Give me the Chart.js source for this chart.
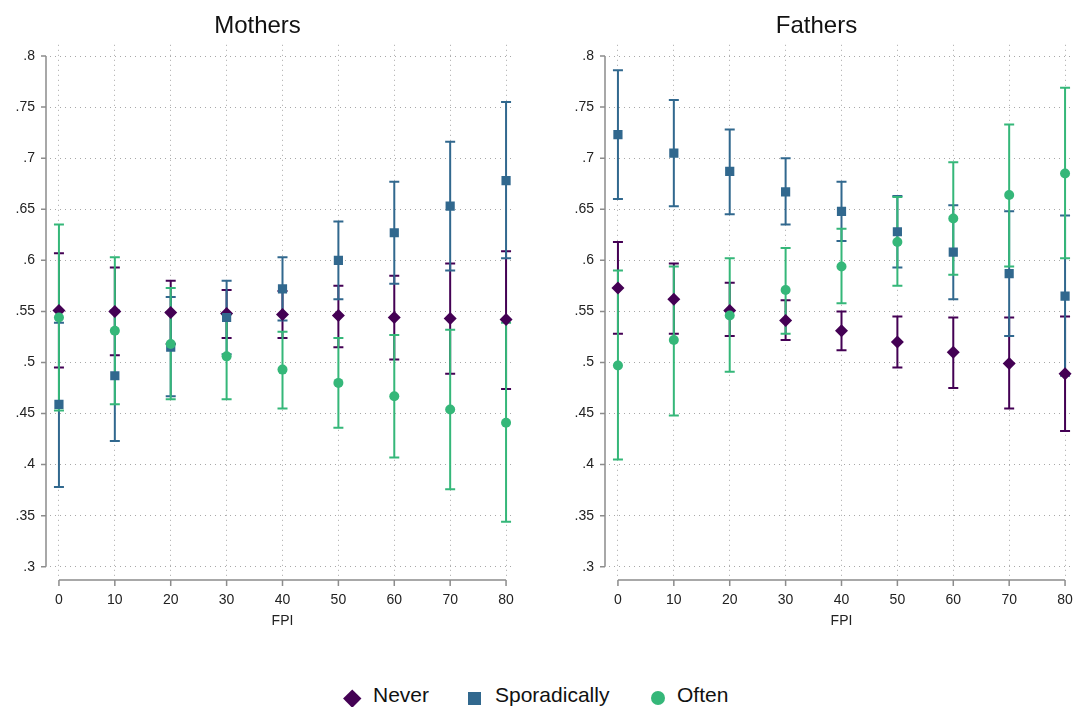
<!DOCTYPE html>
<html>
<head>
<meta charset="utf-8">
<script src="https://cdn.jsdelivr.net/npm/chart.js@4/dist/chart.umd.min.js"></script>
<style>
  body { margin: 0; background: #fff; width: 1074px; height: 707px; position: relative; overflow: hidden;
         font-family: "Liberation Sans", Arial, sans-serif; }
  #left { position: absolute; left: 0; top: 0; }
  #right { position: absolute; left: 559px; top: 0; }
  .lg { position: absolute; top: 683px; font-size: 21px; color: #111; line-height: 24px; white-space: nowrap; }
  .mk { position: absolute; }
</style>
</head>
<body>
<canvas id="left" width="559" height="650"></canvas>
<canvas id="right" width="535" height="650"></canvas>

<div class="mk" style="left:346px;top:692px;width:12.5px;height:12.5px;background:#440154;transform:rotate(45deg);"></div>
<div class="lg" style="left:373px;">Never</div>
<div class="mk" style="left:468px;top:692px;width:13px;height:13px;background:#31688e;"></div>
<div class="lg" style="left:495px;">Sporadically</div>
<div class="mk" style="left:651px;top:691px;width:14px;height:14px;border-radius:50%;background:#35b779;"></div>
<div class="lg" style="left:677px;">Often</div>

<script>
// x positions (FPI) and axis ticks
const fpi = [0, 10, 20, 30, 40, 50, 60, 70, 80];
const yTicks = [0.3, 0.35, 0.4, 0.45, 0.5, 0.55, 0.6, 0.65, 0.7, 0.75, 0.8];

// Mothers
const mNever   = [0.551, 0.550, 0.549, 0.548, 0.547, 0.546, 0.544, 0.543, 0.542];
const mNeverLo = [0.495, 0.507, 0.518, 0.524, 0.524, 0.515, 0.503, 0.489, 0.474];
const mNeverHi = [0.607, 0.593, 0.580, 0.571, 0.570, 0.575, 0.585, 0.597, 0.609];
const mSpor    = [0.459, 0.487, 0.515, 0.544, 0.572, 0.600, 0.627, 0.653, 0.678];
const mSporLo  = [0.378, 0.423, 0.467, 0.508, 0.541, 0.562, 0.577, 0.590, 0.602];
const mSporHi  = [0.539, 0.551, 0.564, 0.580, 0.603, 0.638, 0.677, 0.716, 0.755];
const mOften   = [0.544, 0.531, 0.518, 0.506, 0.493, 0.480, 0.467, 0.454, 0.441];
const mOftenLo = [0.453, 0.459, 0.464, 0.464, 0.455, 0.436, 0.407, 0.376, 0.344];
const mOftenHi = [0.635, 0.603, 0.573, 0.547, 0.530, 0.524, 0.527, 0.532, 0.539];

// Fathers
const fNever   = [0.573, 0.562, 0.551, 0.541, 0.531, 0.520, 0.510, 0.499, 0.489];
const fNeverLo = [0.528, 0.528, 0.526, 0.522, 0.512, 0.495, 0.475, 0.455, 0.433];
const fNeverHi = [0.618, 0.597, 0.578, 0.561, 0.550, 0.545, 0.544, 0.544, 0.545];
const fSpor    = [0.723, 0.705, 0.687, 0.667, 0.648, 0.628, 0.608, 0.587, 0.565];
const fSporLo  = [0.660, 0.653, 0.645, 0.635, 0.619, 0.593, 0.562, 0.526, 0.487];
const fSporHi  = [0.786, 0.757, 0.728, 0.700, 0.677, 0.663, 0.654, 0.648, 0.644];
const fOften   = [0.497, 0.522, 0.546, 0.571, 0.594, 0.618, 0.641, 0.664, 0.685];
const fOftenLo = [0.405, 0.448, 0.491, 0.528, 0.558, 0.575, 0.586, 0.594, 0.602];
const fOftenHi = [0.590, 0.594, 0.602, 0.612, 0.631, 0.662, 0.696, 0.733, 0.769];

const colors = { never: '#440154', spor: '#31688e', often: '#35b779' };

function points(mean, lo, hi) {
  return fpi.map((x, i) => ({ x: x, y: mean[i], yMin: lo[i], yMax: hi[i] }));
}

// caps + whiskers, drawn under the markers
const errorBars = {
  id: 'errorBars',
  beforeDatasetsDraw(chart) {
    const { ctx, scales: { x, y } } = chart;
    ctx.save();
    ctx.lineWidth = 2;
    chart.data.datasets.forEach(ds => {
      ctx.strokeStyle = ds.borderColor;
      ds.data.forEach(p => {
        const px = x.getPixelForValue(p.x);
        const top = y.getPixelForValue(p.yMax);
        const bot = y.getPixelForValue(p.yMin);
        ctx.beginPath();
        ctx.moveTo(px, top); ctx.lineTo(px, bot);
        ctx.moveTo(px - 5, top); ctx.lineTo(px + 5, top);
        ctx.moveTo(px - 5, bot); ctx.lineTo(px + 5, bot);
        ctx.stroke();
      });
    });
    ctx.restore();
  }
};

// stata style axis lines, set off from the plot region
const axisLines = {
  id: 'axisLines',
  afterDraw(chart) {
    const { ctx, chartArea, scales: { x, y } } = chart;
    ctx.save();
    ctx.strokeStyle = '#8c8c8c';
    ctx.lineWidth = 1.5;
    const ax = chartArea.left - 4;
    const ay = chartArea.bottom + 2;
    ctx.beginPath();
    ctx.moveTo(ax, y.getPixelForValue(yTicks[0]));
    ctx.lineTo(ax, y.getPixelForValue(yTicks[yTicks.length - 1]));
    yTicks.forEach(t => { const py = y.getPixelForValue(t); ctx.moveTo(ax - 5, py); ctx.lineTo(ax, py); });
    ctx.moveTo(x.getPixelForValue(fpi[0]), ay);
    ctx.lineTo(x.getPixelForValue(fpi[fpi.length - 1]), ay);
    fpi.forEach(t => { const px = x.getPixelForValue(t); ctx.moveTo(px, ay); ctx.lineTo(px, ay + 6); });
    ctx.stroke();
    ctx.restore();
  }
};

function makePanel(id, title, padRight, never, spor, often) {
  const grid = { color: '#a8a8a8', lineWidth: 1, drawTicks: false };
  return new Chart(document.getElementById(id), {
    type: 'scatter',
    data: {
      datasets: [
        { label: 'Never', data: never, borderColor: colors.never, backgroundColor: colors.never,
          pointStyle: 'rectRot', pointRadius: 6.5, pointHoverRadius: 6.5, borderWidth: 0, order: 3 },
        { label: 'Sporadically', data: spor, borderColor: colors.spor, backgroundColor: colors.spor,
          pointStyle: 'rect', pointRadius: 6.5, pointHoverRadius: 6.5, borderWidth: 0, order: 2 },
        { label: 'Often', data: often, borderColor: colors.often, backgroundColor: colors.often,
          pointStyle: 'circle', pointRadius: 5, pointHoverRadius: 5, borderWidth: 0, order: 1 }
      ]
    },
    options: {
      responsive: false,
      animation: false,
      layout: { padding: { left: 0, right: padRight, top: 0, bottom: 0 } },
      plugins: {
        legend: { display: false },
        tooltip: { enabled: false },
        title: { display: true, text: title, color: '#111',
                 font: { family: 'Liberation Sans', size: 24, weight: 'normal', lineHeight: 1.2 },
                 padding: { top: 12, bottom: 4 } }
      },
      scales: {
        x: {
          type: 'linear', min: -1.6, max: 81.6,
          afterBuildTicks: s => { s.ticks = fpi.map(v => ({ value: v })); },
          afterFit: s => { s.height = 72; },
          grid: Object.assign({ borderDash: [1, 4] }, grid),
          border: { display: false, dash: [1, 4] },
          ticks: { color: '#222', padding: 14, font: { family: 'Liberation Sans', size: 14 } },
          title: { display: true, text: 'FPI', color: '#222', padding: { top: 0, bottom: 20 },
                   font: { family: 'Liberation Sans', size: 14 } }
        },
        y: {
          type: 'linear', min: 0.289, max: 0.811,
          afterBuildTicks: s => { s.ticks = yTicks.map(v => ({ value: v })); },
          afterFit: s => { s.width = 50; },
          grid: grid,
          border: { display: false, dash: [1, 4] },
          ticks: { color: '#222', padding: 15, font: { family: 'Liberation Sans', size: 14 },
                   callback: v => String(+v.toFixed(2)).replace(/^0/, '') }
        }
      }
    },
    plugins: [errorBars, axisLines]
  });
}

makePanel('left', 'Mothers', 44,
  points(mNever, mNeverLo, mNeverHi), points(mSpor, mSporLo, mSporHi), points(mOften, mOftenLo, mOftenHi));
makePanel('right', 'Fathers', 20,
  points(fNever, fNeverLo, fNeverHi), points(fSpor, fSporLo, fSporHi), points(fOften, fOftenLo, fOftenHi));
</script>
</body>
</html>
